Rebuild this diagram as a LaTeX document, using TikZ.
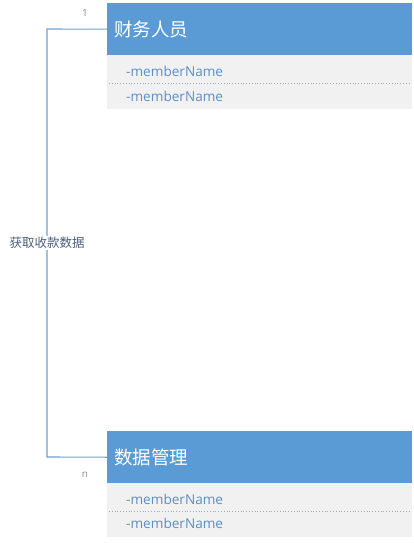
\documentclass[tikz,border=0pt]{standalone}
\usepackage{fontspec}
\setmainfont{Open Sans}
\newfontfamily\cjk{Noto Sans CJK SC}
\definecolor{hdr}{HTML}{5B9BD5}
\definecolor{bodyc}{HTML}{F1F1F1}
\definecolor{attr}{HTML}{5B8FC8}
\definecolor{lnc}{HTML}{6E9FCF}
\definecolor{lbl}{HTML}{4A5F7A}
\definecolor{mult}{HTML}{7A8FA8}
\tikzset{
  header/.style={fill=hdr, minimum width=305pt, minimum height=52pt, anchor=north west, inner sep=0pt},
  bodybox/.style={fill=bodyc, minimum width=305pt, minimum height=54pt, anchor=north west, inner sep=0pt},
  title/.style={text=white, font=\cjk\fontsize{18.5}{20}\selectfont, anchor=west, inner sep=0pt},
  attrtxt/.style={text=attr, font=\fontsize{13.6}{15}\selectfont, anchor=west, inner sep=0pt},
  sep/.style={draw=attr!70, dotted, line width=0.8pt},
  conn/.style={draw=lnc, line width=1.1pt},
  lab/.style={text=lbl, font=\cjk\fontsize{12.5}{14}\selectfont, fill=white, inner sep=1pt},
  multl/.style={text=mult, font=\fontsize{10}{11}\selectfont, inner sep=0pt}
}
\begin{document}
\begin{tikzpicture}[x=1pt,y=-1pt]
\useasboundingbox (0,0) rectangle (414,543);
% top class
\node[header] (h1) at (107,3) {};
\node[bodybox] (b1) at (107,55) {};
\node[title] (t1) at (114,29) {财务人员};
\node[attrtxt] (a11) at (126,71) {-memberName};
\node[attrtxt] (a12) at (126,96) {-memberName};
\draw[sep] (109,83.5) -- (410,83.5);
% bottom class
\node[header] (h2) at (107,431) {};
\node[bodybox] (b2) at (107,483) {};
\node[title] (t2) at (114,457) {数据管理};
\node[attrtxt] (a21) at (126,499) {-memberName};
\node[attrtxt] (a22) at (126,523) {-memberName};
\draw[sep] (109,511.5) -- (410,511.5);
% connector
\coordinate (c1) at (47,29);
\coordinate (c2) at (47,457);
\draw[conn] (h1.west) -- (c1) -- (c2) -- (h2.west);
\node[lab] (lb) at (47,243) {获取收款数据};
\node[multl] (m1) at (85,13) {1};
\node[multl] (m2) at (85,475) {n};
\end{tikzpicture}
\end{document}
